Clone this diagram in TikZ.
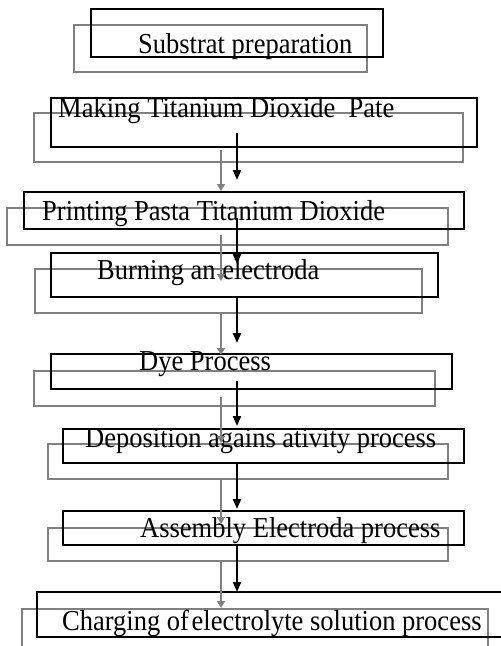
\documentclass[tikz,border=0pt]{standalone}
\usepackage{fontspec}
\setmainfont{Liberation Serif}
\usetikzlibrary{arrows.meta,calc}
\newcommand{\tallbox}[1]{\scalebox{1}[1.09]{#1}}
\begin{document}
\begin{tikzpicture}[x=1pt,y=-1pt,
  bbox/.style={draw=black,line width=2pt,inner sep=0pt,outer sep=0pt},
  gbox/.style={draw=gray,line width=1.8pt,inner sep=0pt,outer sep=0pt},
  lbl/.style={inner sep=0pt,anchor=base west,font=\fontsize{26.5}{30}\selectfont},
  barrow/.style={draw=black,line width=2pt,-{Triangle[length=10pt,width=8pt]}},
  garrow/.style={draw=gray,line width=1.8pt,-{Triangle[length=7pt,width=8pt]}}]
\clip (0,0) rectangle (501,646);
\fill[white] (0,0) rectangle (501,646);
\coordinate (ax) at (237,0);
\coordinate (gx) at (221,0);
% gray boxes
\node[gbox,minimum width=293pt,minimum height=47pt] (g1) at (220.5,48.5) {};
\node[gbox,minimum width=429pt,minimum height=49pt] (g2) at (248.5,137.5) {};
\node[gbox,minimum width=441pt,minimum height=37pt] (g3) at (227.5,226.5) {};
\node[gbox,minimum width=387pt,minimum height=44pt] (g4) at (228.5,291) {};
\node[gbox,minimum width=401pt,minimum height=35pt] (g5) at (234.5,388.5) {};
\node[gbox,minimum width=400pt,minimum height=35pt] (g6) at (248,461.5) {};
\node[gbox,minimum width=400pt,minimum height=33pt] (g7) at (248,544.5) {};
\node[gbox,minimum width=466pt,minimum height=51pt] (g8) at (255,634.5) {};
% black boxes
\node[bbox,minimum width=292pt,minimum height=48pt] (b1) at (237,33) {};
\node[bbox,minimum width=426pt,minimum height=49pt] (b2) at (264,122.5) {};
\node[bbox,minimum width=440pt,minimum height=37pt] (b3) at (244,210.5) {};
\node[bbox,minimum width=387pt,minimum height=44pt] (b4) at (244.5,275) {};
\node[bbox,minimum width=401pt,minimum height=35pt] (b5) at (251.5,371.5) {};
\node[bbox,minimum width=401pt,minimum height=34pt] (b6) at (263.5,446) {};
\node[bbox,minimum width=401pt,minimum height=34pt] (b7) at (263.5,528) {};
\node[bbox,minimum width=478pt,minimum height=45pt] (b8) at (276,614.5) {};
% labels
\node[lbl] (t1) at (138,53) {\tallbox{Substrat preparation}};
\node[lbl] (t2) at (58,117) {\tallbox{Making Titanium Dioxide\ \ Pate}};
\node[lbl] (t3) at (42,220) {\tallbox{Printing Pasta Titanium Dioxide}};
\node[lbl] (t4) at (97,279) {\tallbox{Burning an electroda}};
\node[lbl] (t5) at (139,370) {\tallbox{Dye Process}};
\node[lbl] (t6) at (85,447) {\tallbox{Deposition agains ativity process}};
\node[lbl] (t7) at (140,537) {\tallbox{Assembly Electroda process}};
\node[lbl] (t8) at (62,630) {\tallbox{Charging of\hspace{-4pt} electrolyte solution process}};
% gray arrows
\draw[garrow] ($(g2.south -| gx)+(0,-12)$) -- ($(g3.north -| gx)+(0,-17)$);
\draw[garrow] ($(g3.south -| gx)+(0,-10)$) -- ($(g4.north -| gx)+(0,12)$);
\draw[garrow] (g4.south -| gx) -- ($(g5.north -| gx)+(0,-16)$);
\draw[garrow] ($(g5.south -| gx)+(0,-9)$) -- ($(g6.north -| gx)+(0,-1)$);
\draw[garrow] (g6.south -| gx) -- ($(g7.north -| gx)+(0,-4)$);
\draw[garrow] (g7.south -| gx) -- ($(g8.north -| gx)+(0,-1)$);
% black arrows
\draw[barrow] ($(b2.south -| ax)+(0,-14)$) -- ($(b3.north -| ax)+(0,-12)$);
\draw[barrow] ($(b3.south -| ax)+(0,-11)$) -- ($(b4.north -| ax)+(0,11)$);
\draw[barrow] (b4.south -| ax) -- ($(b5.north -| ax)+(0,-11)$);
\draw[barrow] ($(b5.south -| ax)+(0,-8)$) -- ($(b6.north -| ax)+(0,-3)$);
\draw[barrow] (b6.south -| ax) -- ($(b7.north -| ax)+(0,-2)$);
\draw[barrow] (b7.south -| ax) -- (b8.north -| ax);
\end{tikzpicture}
\end{document}
